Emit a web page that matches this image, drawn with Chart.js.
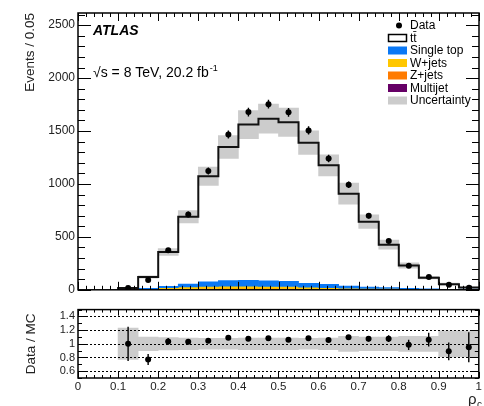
<!DOCTYPE html>
<html>
<head>
<meta charset="utf-8">
<script src="https://cdn.jsdelivr.net/npm/chart.js@4.4.1/dist/chart.umd.min.js"></script>
<style>
  html, body { margin: 0; padding: 0; background: #fff; }
  #wrap { position: relative; width: 484px; height: 406px; overflow: hidden; }
  canvas { position: absolute; left: 0; }
  #mainChart { top: 0; }
  #ratioChart { top: 300px; }
</style>
</head>
<body>
<div id="wrap">
  <canvas id="mainChart" width="484" height="300"></canvas>
  <canvas id="ratioChart" width="484" height="106"></canvas>
</div>
<script>
// 20 bins of width 0.05
const binEdges = [0, 0.05, 0.1, 0.15, 0.2, 0.25, 0.3, 0.35, 0.4, 0.45, 0.5,
                  0.55, 0.6, 0.65, 0.7, 0.75, 0.8, 0.85, 0.9, 0.95, 1];

// predicted events per bin
const ttbar     = [0, 0, 5, 107, 324, 637, 997, 1263, 1471, 1532, 1504, 1330, 1124, 874, 618, 406, 217, 107, 48, 15];
const singleTop = [0, 0, 1, 5, 14, 26, 44, 52, 55, 52, 48, 36, 31, 18, 12, 8, 5, 3, 1, 1];
const wJets     = [0, 0, 1, 4, 12, 17, 20, 22, 22, 20, 19, 14, 12, 9, 8, 6, 4, 2, 1, 1];
const zJets     = [0, 0, 1, 2, 4, 6, 7, 8, 8, 8, 7, 6, 5, 4, 3, 3, 2, 1, 1, 1];
const multijet  = [0, 0, 10, 3, 3, 4, 5, 5, 5, 5, 5, 4, 4, 3, 3, 3, 2, 2, 2, 3];
// relative uncertainty on the total prediction
const mcUnc     = [0, 0, 0.23, 0.10, 0.09, 0.085, 0.08, 0.08, 0.085, 0.085, 0.085, 0.08, 0.085, 0.11, 0.10, 0.10, 0.11, 0.11, 0.19, 0.19];

// observed events
const dataCounts = [null, null, 18, 93, 373, 712, 1122, 1468, 1679, 1754, 1677, 1505, 1241, 992, 700, 460, 228, 122, 48, 20];
const dataErr    = [null, null, 6, 10, 19, 27, 33, 38, 41, 42, 41, 39, 35, 31, 26, 21, 15, 11, 7, 5];

// data / prediction
const ratio    = [null, null, 1.0, 0.77, 1.035, 1.03, 1.045, 1.09, 1.075, 1.08, 1.06, 1.08, 1.055, 1.095, 1.075, 1.075, 0.985, 1.06, 0.89, 0.95];
const ratioErr = [null, null, 0.25, 0.08, 0.05, 0.035, 0.03, 0.03, 0.03, 0.03, 0.03, 0.03, 0.03, 0.035, 0.04, 0.05, 0.075, 0.1, 0.13, 0.22];

const yTicksMain  = [0, 500, 1000, 1500, 2000, 2500];
const yTicksRatio = [0.6, 0.8, 1, 1.2, 1.4];
const xTicks      = [0, 0.1, 0.2, 0.3, 0.4, 0.5, 0.6, 0.7, 0.8, 0.9, 1];

const colors = {
    singleTop: '#0a78f5',
    wJets: '#ffc700',
    zJets: '#ff7b00',
    multijet: '#660066',
    unc: '#cccccc'
};

const FONT = "'Liberation Sans', Arial, Helvetica, sans-serif";
Chart.defaults.font.family = FONT;
Chart.defaults.color = '#222';

const centers = binEdges.slice(0, -1).map((e, i) => (e + binEdges[i + 1]) / 2);
const filled = binEdges.slice(0, -1).map((e, i) => dataCounts[i] !== null);

// stack the backgrounds from the bottom up
const stack = [multijet, zJets, wJets, singleTop, ttbar];
const cumulative = [];
let base = centers.map(() => 0);
stack.forEach(comp => {
    const top = base.map((b, i) => b + comp[i]);
    cumulative.push({ low: base, high: top });
    base = top;
});
const total = base;

function floatingBars(low, high) {
    const pts = [];
    centers.forEach((c, i) => {
        if (filled[i]) pts.push({ x: c, y: [low[i], high[i]] });
    });
    return pts;
}

function histBars(idx, color, label) {
    return {
        type: 'bar',
        label: label,
        data: floatingBars(cumulative[idx].low, cumulative[idx].high),
        backgroundColor: color,
        borderWidth: 0,
        grouped: false,
        barPercentage: 1,
        categoryPercentage: 1,
        order: 4
    };
}

// inward ticks on all four sides, plus the frame
const framePlugin = {
    id: 'frame',
    afterDatasetsDraw(chart, args, opts) {
        const { ctx, chartArea: a, scales: { x, y } } = chart;
        ctx.save();
        ctx.strokeStyle = '#000';
        if (opts.grid) {
            ctx.setLineDash([2, 2]);
            ctx.lineWidth = 1;
            opts.grid.forEach(v => {
                const py = Math.round(y.getPixelForValue(v)) + 0.5;
                ctx.beginPath();
                ctx.moveTo(a.left, py);
                ctx.lineTo(a.right, py);
                ctx.stroke();
            });
            ctx.setLineDash([]);
        }
        ctx.lineWidth = 1;
        ctx.beginPath();
        const isMajor = (v, step) => Math.abs(v / step - Math.round(v / step)) < 1e-6;
        for (let k = Math.ceil(x.min / opts.xMinor - 1e-6); k * opts.xMinor <= x.max + 1e-9; k++) {
            const v = k * opts.xMinor;
            const len = isMajor(v, opts.xMajor) ? opts.xLen[0] : opts.xLen[1];
            const px = Math.round(x.getPixelForValue(v)) + 0.5;
            ctx.moveTo(px, a.bottom); ctx.lineTo(px, a.bottom - len);
            ctx.moveTo(px, a.top); ctx.lineTo(px, a.top + len);
        }
        for (let k = Math.ceil(y.min / opts.yMinor - 1e-6); k * opts.yMinor <= y.max + 1e-9; k++) {
            const v = k * opts.yMinor;
            const len = isMajor(v, opts.yMajor) ? opts.yLen[0] : opts.yLen[1];
            const py = Math.round(y.getPixelForValue(v)) + 0.5;
            ctx.moveTo(a.left, py); ctx.lineTo(a.left + len, py);
            ctx.moveTo(a.right, py); ctx.lineTo(a.right - len, py);
        }
        ctx.stroke();
        ctx.lineWidth = 1.5;
        ctx.strokeRect(a.left, a.top, a.right - a.left, a.bottom - a.top);
        ctx.restore();
    }
};

// experiment label, energy/luminosity and the sample legend
const labelsPlugin = {
    id: 'labels',
    afterDraw(chart, args, opts) {
        const ctx = chart.ctx;
        ctx.save();
        ctx.fillStyle = '#000';
        ctx.textBaseline = 'alphabetic';
        ctx.font = 'italic bold 14px ' + FONT;
        ctx.fillText('ATLAS', 93, 35);
        ctx.font = '14px ' + FONT;
        const lumi = '\u221As = 8 TeV, 20.2 fb';
        ctx.fillText(lumi, 93, 77);
        const w = ctx.measureText(lumi).width;
        ctx.font = '9px ' + FONT;
        ctx.fillText('-1', 93 + w + 1, 71);

        ctx.font = '12px ' + FONT;
        ctx.textBaseline = 'middle';
        opts.items.forEach((it, i) => {
            const cy = 25.5 + i * 12.5;
            if (it.kind === 'point') {
                ctx.beginPath();
                ctx.arc(399, cy, 3, 0, Math.PI * 2);
                ctx.fill();
            } else {
                ctx.fillStyle = it.fill;
                ctx.fillRect(388, cy - 4, 19, 8);
                if (it.stroke) {
                    ctx.strokeStyle = it.stroke;
                    ctx.lineWidth = 1.5;
                    ctx.strokeRect(388.5, cy - 3.5, 18, 7);
                }
            }
            ctx.fillStyle = '#000';
            ctx.fillText(it.label, 410, cy + 0.5);
        });
        ctx.restore();
    }
};

// x-axis title in the lower right corner
const xTitlePlugin = {
    id: 'xTitle',
    afterDraw(chart) {
        const ctx = chart.ctx;
        ctx.save();
        ctx.fillStyle = '#222';
        ctx.font = '15px ' + FONT;
        ctx.fillText('\u03C1', 468, 104);
        ctx.font = '10px ' + FONT;
        ctx.fillText('c', 477, 108);
        ctx.restore();
    }
};

const tickSetter = list => scale => { scale.ticks = list.map(v => ({ value: v })); };
const plainLabel = v => String(v);

const mainChart = new Chart(document.getElementById('mainChart'), {
    type: 'bar',
    data: {
        datasets: [
            {
                type: 'scatter',
                label: 'Data',
                data: centers.map((c, i) => ({ x: c, y: dataCounts[i] })).filter((p, i) => filled[i]),
                pointRadius: 3,
                pointBackgroundColor: '#000',
                pointBorderWidth: 0,
                order: 0
            },
            {
                type: 'bar',
                label: 'Data errors',
                data: floatingBars(dataCounts.map((d, i) => d - dataErr[i]), dataCounts.map((d, i) => d + dataErr[i])),
                backgroundColor: '#000',
                grouped: false,
                barPercentage: 0.07,
                categoryPercentage: 1,
                order: 1
            },
            {
                type: 'line',
                label: 'tt',
                data: [{ x: binEdges[2], y: 0 }]
                    .concat(binEdges.slice(2, -1).map((e, j) => ({ x: e, y: total[j + 2] })))
                    .concat([{ x: 1, y: total[19] }]),
                stepped: true,
                borderColor: '#111',
                borderWidth: 2,
                pointRadius: 0,
                fill: false,
                order: 2
            },
            {
                type: 'bar',
                label: 'Uncertainty',
                data: floatingBars(total.map((t, i) => t * (1 - mcUnc[i])), total.map((t, i) => t * (1 + mcUnc[i]))),
                backgroundColor: colors.unc,
                borderWidth: 0,
                grouped: false,
                barPercentage: 1,
                categoryPercentage: 1,
                order: 3
            },
            histBars(3, colors.singleTop, 'Single top'),
            histBars(2, colors.wJets, 'W+jets'),
            histBars(1, colors.zJets, 'Z+jets'),
            histBars(0, colors.multijet, 'Multijet')
        ]
    },
    options: {
        responsive: false,
        animation: false,
        layout: { padding: { top: 13, right: 5, bottom: 6, left: 0 } },
        plugins: {
            legend: { display: false },
            tooltip: { enabled: false },
            frame: { xMajor: 0.1, xMinor: 0.02, xLen: [8, 4], yMajor: 500, yMinor: 100, yLen: [13, 7] },
            labels: {
                items: [
                    { label: 'Data', kind: 'point' },
                    { label: 'tt\u0304', fill: '#fff', stroke: '#000' },
                    { label: 'Single top', fill: colors.singleTop },
                    { label: 'W+jets', fill: colors.wJets },
                    { label: 'Z+jets', fill: colors.zJets },
                    { label: 'Multijet', fill: colors.multijet },
                    { label: 'Uncertainty', fill: colors.unc }
                ]
            }
        },
        scales: {
            x: {
                type: 'linear',
                min: 0,
                max: 1,
                offset: false,
                display: false,
                afterBuildTicks: tickSetter(xTicks)
            },
            y: {
                min: 0,
                max: 2615,
                afterBuildTicks: tickSetter(yTicksMain),
                afterFit: s => { s.width = 78; },
                grid: { display: false, drawTicks: false },
                border: { display: false },
                ticks: { padding: 3, font: { size: 12 }, color: '#222', callback: plainLabel, autoSkip: false },
                title: {
                    display: true,
                    text: 'Events / 0.05',
                    align: 'end',
                    color: '#222',
                    font: { size: 13.5 },
                    padding: { top: 22, bottom: 0 }
                }
            }
        }
    },
    plugins: [framePlugin, labelsPlugin]
});

const ratioChart = new Chart(document.getElementById('ratioChart'), {
    type: 'bar',
    data: {
        datasets: [
            {
                type: 'scatter',
                label: 'Data / MC',
                data: centers.map((c, i) => ({ x: c, y: ratio[i] })).filter((p, i) => filled[i]),
                pointRadius: 3,
                pointBackgroundColor: '#000',
                pointBorderWidth: 0,
                order: 0
            },
            {
                type: 'bar',
                label: 'Ratio errors',
                data: floatingBars(ratio.map((r, i) => r - ratioErr[i]), ratio.map((r, i) => r + ratioErr[i])),
                backgroundColor: '#000',
                grouped: false,
                barPercentage: 0.07,
                categoryPercentage: 1,
                order: 1
            },
            {
                type: 'bar',
                label: 'Uncertainty',
                data: floatingBars(mcUnc.map(u => 1 - u), mcUnc.map(u => 1 + u)),
                backgroundColor: colors.unc,
                borderWidth: 0,
                grouped: false,
                barPercentage: 1,
                categoryPercentage: 1,
                order: 2
            }
        ]
    },
    options: {
        responsive: false,
        animation: false,
        layout: { padding: { top: 9, right: 5, bottom: 0, left: 0 } },
        plugins: {
            legend: { display: false },
            tooltip: { enabled: false },
            frame: { grid: yTicksRatio, xMajor: 0.1, xMinor: 0.02, xLen: [6, 3], yMajor: 0.2, yMinor: 0.1, yLen: [8, 4] }
        },
        scales: {
            x: {
                type: 'linear',
                min: 0,
                max: 1,
                offset: false,
                afterBuildTicks: tickSetter(xTicks),
                afterFit: s => { s.height = 28; },
                grid: { display: false, drawTicks: false },
                border: { display: false },
                ticks: { padding: 2, font: { size: 11.5 }, color: '#222', maxRotation: 0, autoSkip: false, callback: plainLabel }
            },
            y: {
                min: 0.5,
                max: 1.5,
                afterBuildTicks: tickSetter(yTicksRatio),
                afterFit: s => { s.width = 78; },
                grid: { display: false, drawTicks: false },
                border: { display: false },
                ticks: { padding: 3, font: { size: 11 }, color: '#222', autoSkip: false, callback: plainLabel },
                title: {
                    display: true,
                    text: 'Data / MC',
                    align: 'center',
                    color: '#222',
                    font: { size: 13.5 },
                    padding: { top: 23, bottom: 0 }
                }
            }
        }
    },
    plugins: [framePlugin, xTitlePlugin]
});
</script>
</body>
</html>
